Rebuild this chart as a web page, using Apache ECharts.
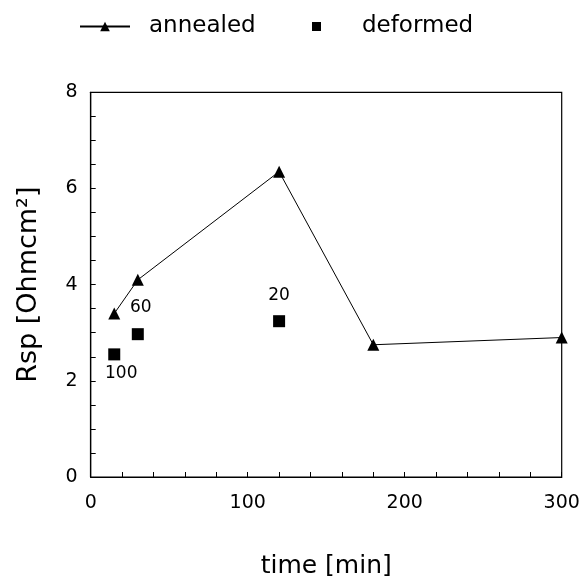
<!DOCTYPE html>
<html>
<head>
<meta charset="utf-8">
<script src="https://cdn.jsdelivr.net/npm/echarts@6/dist/echarts.min.js"></script>
<style>html,body{margin:0;padding:0;background:#fff;}#c{width:584px;height:584px;}</style>
</head>
<body>
<div id="c"></div>
<script>
const annealedTime = [15, 30, 120, 180, 300];
const annealedRsp = [3.4, 4.1, 6.35, 2.75, 2.9];
const deformedTime = [15, 30, 120];
const deformedRsp = [2.55, 2.97, 3.24];
const deformedLabels = ['100', '60', '20'];
const xTicks = [0, 100, 200, 300];
const yTicks = [0, 2, 4, 6, 8];

const FONT = 'DejaVu Sans';
const labelOffsets = [[7, 19], [3, -27], [0, -26]];

const chart = echarts.init(document.getElementById('c'), null, {renderer: 'canvas'});
chart.setOption({
  animation: false,
  backgroundColor: '#fff',
  textStyle: {fontFamily: FONT, color: '#000'},
  legend: [
    {
      data: ['annealed'], left: 74, top: 10, itemWidth: 50, itemHeight: 12,
      textStyle: {fontFamily: FONT, fontSize: 23, color: '#000', padding: [0, 0, 0, 14]},
      selectedMode: false
    },
    {
      data: [{name: 'deformed', icon: 'rect'}], left: 307, top: 10, itemWidth: 9, itemHeight: 9,
      textStyle: {fontFamily: FONT, fontSize: 23, color: '#000', padding: [0, 0, 0, 36]},
      selectedMode: false
    }
  ],
  grid: {left: 90.7, right: 22.3, top: 92.3, bottom: 99, show: true, borderColor: '#000', borderWidth: 1.2, containLabel: false},
  xAxis: {
    type: 'value', min: 0, max: 300, interval: 100,
    name: 'time [min]', nameLocation: 'middle', nameGap: 77,
    nameTextStyle: {fontFamily: FONT, fontSize: 25, color: '#000'},
    axisLine: {show: true, lineStyle: {color: '#000', width: 1.2}},
    axisTick: {show: true, inside: true, length: 5, lineStyle: {color: '#000'}},
    minorTick: {show: true, splitNumber: 5, length: 5, lineStyle: {color: '#000'}},
    axisLabel: {margin: 17, fontFamily: FONT, fontSize: 19, color: '#000',
      formatter: v => xTicks.includes(v) ? String(v) : ''},
    splitLine: {show: false}
  },
  yAxis: {
    type: 'value', min: 0, max: 8, interval: 2,
    name: 'Rsp [Ohmcm\u00B2]', nameLocation: 'middle', nameGap: 48, nameRotate: 90,
    nameTextStyle: {fontFamily: FONT, fontSize: 27, color: '#000'},
    axisLine: {show: true, lineStyle: {color: '#000', width: 1.2}},
    axisTick: {show: true, inside: true, length: 5, lineStyle: {color: '#000'}},
    minorTick: {show: true, splitNumber: 4, length: 5, lineStyle: {color: '#000'}},
    axisLabel: {margin: 13, fontFamily: FONT, fontSize: 19, color: '#000',
      formatter: v => yTicks.includes(v) ? String(v) : ''},
    splitLine: {show: false}
  },
  series: [
    {
      name: 'annealed', type: 'line',
      data: annealedTime.map((t, i) => [t, annealedRsp[i]]),
      symbol: 'triangle', symbolSize: 12, showAllSymbol: true,
      lineStyle: {color: '#000', width: 1},
      itemStyle: {color: '#000', opacity: 1},
      z: 3
    },
    {
      name: 'deformed', type: 'scatter',
      data: deformedTime.map((t, i) => ({
        value: [t, deformedRsp[i]],
        label: {show: true, formatter: deformedLabels[i], position: 'inside', offset: labelOffsets[i],
          fontFamily: FONT, fontSize: 17, color: '#000', opacity: 1}
      })),
      symbol: 'rect', symbolSize: 12,
      itemStyle: {color: '#000', opacity: 1},
      z: 4
    }
  ]
});
</script>
</body>
</html>
